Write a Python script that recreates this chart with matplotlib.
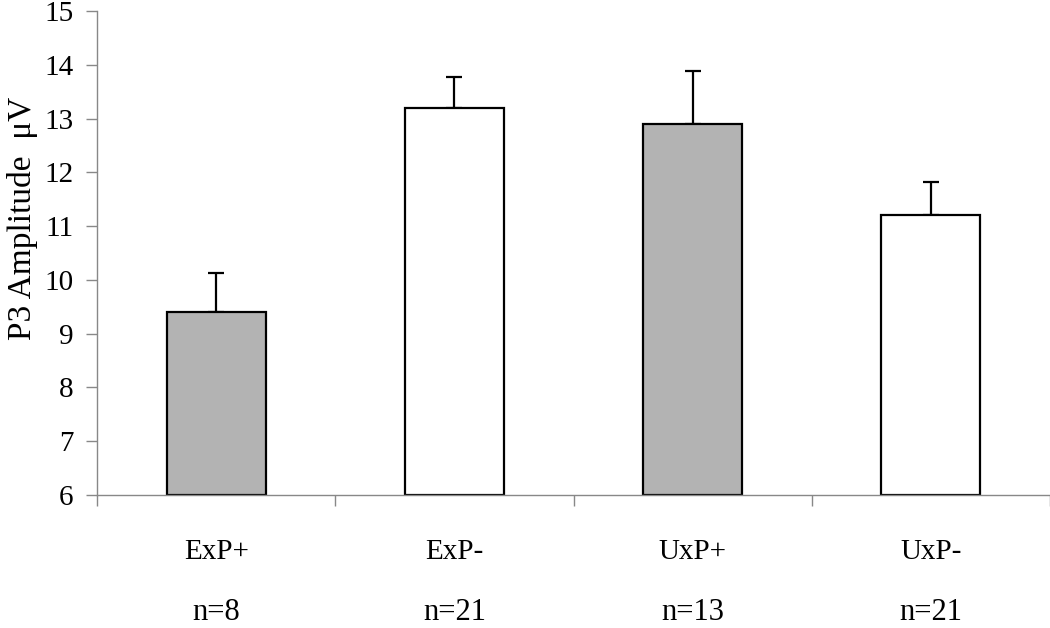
import matplotlib
matplotlib.use("Agg")
import matplotlib.pyplot as plt
import numpy as np

plt.rcParams['font.family'] = ['Liberation Serif', 'DejaVu Serif']

groups = ["ExP+", "ExP-", "UxP+", "UxP-"]
n_labels = ["n=8", "n=21", "n=13", "n=21"]
amplitude = [9.4, 13.2, 12.9, 11.2]
sem_up = [0.72, 0.57, 0.98, 0.62]
fill = ["#b3b3b3", "white", "#b3b3b3", "white"]

fig = plt.figure(figsize=(10.5, 6.28), dpi=100)
ax = fig.add_axes([0.0924, 0.2118, 0.9076, 0.7707])

x = np.arange(len(groups))
ax.bar(x, np.array(amplitude) - 6, bottom=6, width=0.415, color=fill,
       edgecolor='black', linewidth=1.6, zorder=2)
ax.errorbar(x, amplitude, yerr=[np.zeros(len(x)), sem_up], fmt='none',
            ecolor='black', elinewidth=1.6, capsize=6, capthick=1.6, zorder=1)

ax.set_xlim(-0.5, 3.5)
ax.set_ylim(6, 15)
ax.set_yticks(range(6, 16))
ax.tick_params(axis='y', labelsize=21, length=8, width=1, color='#888888',
               direction='out', pad=9)

ax.set_xticks(x)
ax.set_xticklabels(groups)
ax.set_xticks(np.arange(-0.5, 4.0, 1.0), minor=True)
ax.tick_params(axis='x', which='major', length=0, labelsize=21, pad=32)
ax.tick_params(axis='x', which='minor', length=8, width=1, color='#888888',
               direction='out')

# sample sizes under the category names
for xi, lab in zip(x, n_labels):
    ax.text(xi, -0.258, lab, transform=ax.get_xaxis_transform(),
            ha='center', va='baseline', fontsize=22)

for side in ['top', 'right']:
    ax.spines[side].set_visible(False)
for side in ['left', 'bottom']:
    ax.spines[side].set_color('#888888')
    ax.spines[side].set_linewidth(1)

fig.text(0.021, 0.652, "P3 Amplitude  μV", rotation=90, ha='center',
         va='center', fontsize=24)

fig.savefig("out.png", dpi=100)
